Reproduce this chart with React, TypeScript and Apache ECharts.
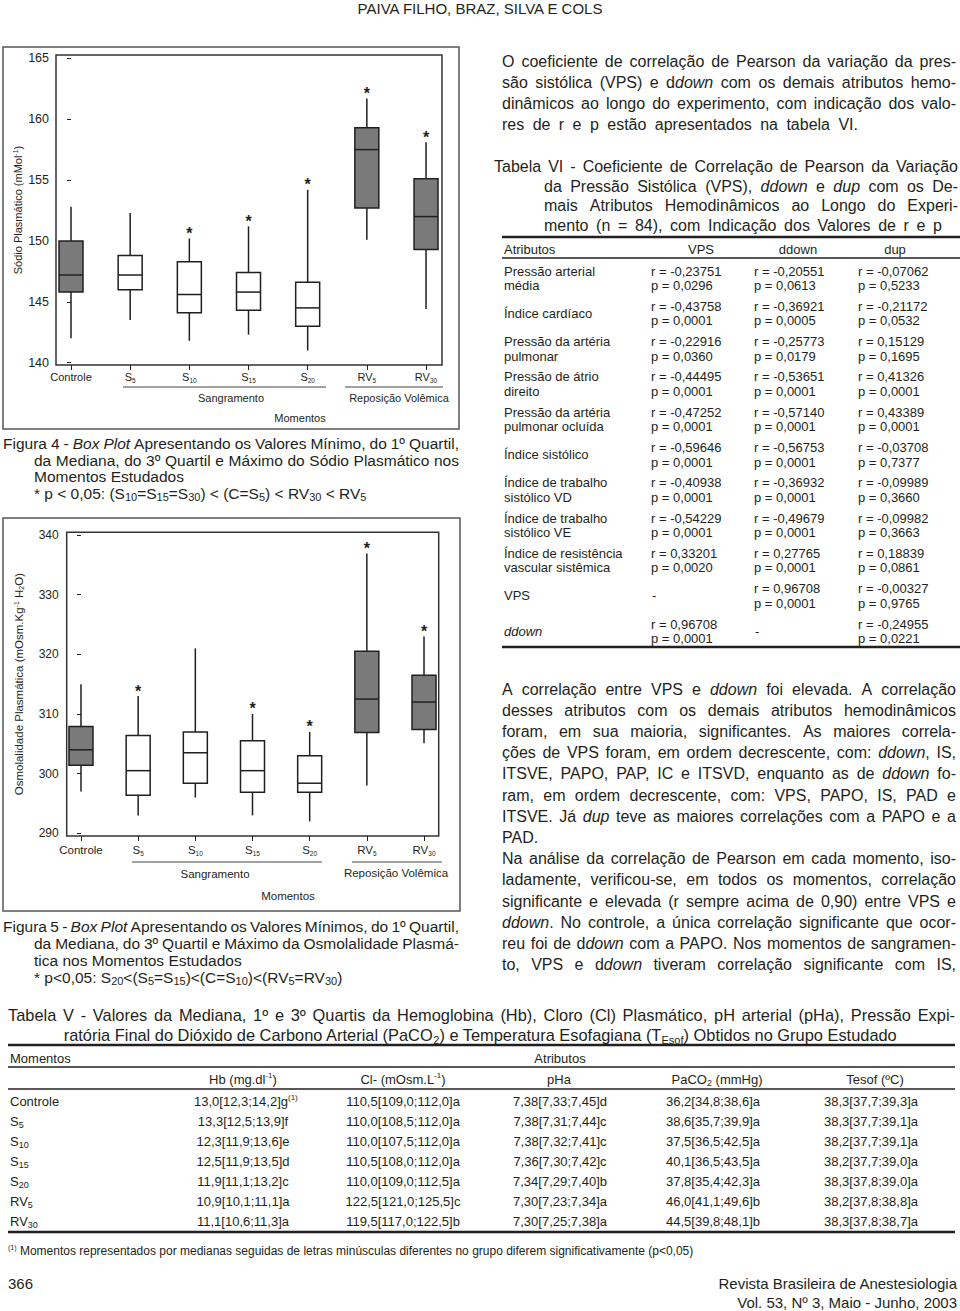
import React, { useEffect, useRef } from 'react';
import * as echarts from 'echarts';

const FONT = '"Liberation Sans", Arial, Helvetica, sans-serif';
const INK = '#231f20';
const GRAY = '#7a7a7a';
const BOX_W = 24;

// ---------- Box plot data ----------
const momentNames = ['Controle', 'S', 'S', 'S', 'S', 'RV', 'RV'];
const momentSubs = ['', '5', '10', '15', '20', '5', '30'];
const grayBoxes = [true, false, false, false, false, true, true];
const xPositions = [0, 1, 2, 3, 4, 5, 6];

// Figura 4 - Sódio plasmático
const sodioMin = [142.0, 143.5, 141.8, 142.3, 141.0, 150.1, 144.4];
const sodioQ1 = [145.8, 146.0, 144.1, 144.3, 143.0, 152.7, 149.3];
const sodioMed = [147.2, 147.2, 145.6, 145.8, 144.5, 157.5, 152.0];
const sodioQ3 = [150.0, 148.8, 148.3, 147.4, 146.6, 159.3, 155.1];
const sodioMax = [152.8, 152.3, 150.2, 151.2, 154.2, 161.7, 158.1];
const sodioStar = [false, false, true, true, true, true, true];
const sodioTicks = [140, 145, 150, 155, 160, 165];

// Figura 5 - Osmolalidade plasmática
const osmMin = [297.0, 293.0, 296.0, 293.0, 292.0, 298.0, 305.1];
const osmQ1 = [301.4, 296.4, 298.4, 296.9, 296.9, 306.9, 307.4];
const osmMed = [304.0, 300.5, 303.5, 300.5, 298.4, 312.5, 312.0];
const osmQ3 = [307.9, 306.4, 307.0, 305.5, 303.0, 320.5, 316.5];
const osmMax = [315.0, 313.0, 321.0, 310.0, 307.0, 336.9, 323.0];
const osmStar = [false, true, false, true, true, true, true];
const osmTicks = [290, 300, 310, 320, 330, 340];

// ---------- Tabela VI ----------
const attrsVI = [
  ['Pressão arterial', 'média'],
  ['Índice cardíaco'],
  ['Pressão da artéria', 'pulmonar'],
  ['Pressão de átrio', 'direito'],
  ['Pressão da artéria', 'pulmonar ocluída'],
  ['Índice sistólico'],
  ['Índice de trabalho', 'sistólico VD'],
  ['Índice de trabalho', 'sistólico VE'],
  ['Índice de resistência', 'vascular sistêmica'],
  ['VPS'],
  ['{i|ddown}'],
];
const vpsR = ['-0,23751', '-0,43758', '-0,22916', '-0,44495', '-0,47252', '-0,59646', '-0,40938', '-0,54229', '0,33201', null, '0,96708'];
const vpsP = ['0,0296', '0,0001', '0,0360', '0,0001', '0,0001', '0,0001', '0,0001', '0,0001', '0,0020', null, '0,0001'];
const ddownR = ['-0,20551', '-0,36921', '-0,25773', '-0,53651', '-0,57140', '-0,56753', '-0,36932', '-0,49679', '0,27765', '0,96708', null];
const ddownP = ['0,0613', '0,0005', '0,0179', '0,0001', '0,0001', '0,0001', '0,0001', '0,0001', '0,0001', '0,0001', null];
const dupR = ['-0,07062', '-0,21172', '0,15129', '0,41326', '0,43389', '-0,03708', '-0,09989', '-0,09982', '0,18839', '-0,00327', '-0,24955'];
const dupP = ['0,5233', '0,0532', '0,1695', '0,0001', '0,0001', '0,7377', '0,3660', '0,3663', '0,0861', '0,9765', '0,0221'];

// ---------- Tabela V ----------
const momentosV = ['Controle', 'S{sub|5}', 'S{sub|10}', 'S{sub|15}', 'S{sub|20}', 'RV{sub|5}', 'RV{sub|30}'];
const hbV = ['13,0[12,3;14,2]g{sup|(1)}', '13,3[12,5;13,9]f', '12,3[11,9;13,6]e', '12,5[11,9;13,5]d', '11,9[11,1;13,2]c', '10,9[10,1;11,1]a', '11,1[10,6;11,3]a'];
const clV = ['110,5[109,0;112,0]a', '110,0[108,5;112,0]a', '110,0[107,5;112,0]a', '110,5[108,0;112,0]a', '110,0[109,0;112,5]a', '122,5[121,0;125,5]c', '119,5[117,0;122,5]b'];
const phaV = ['7,38[7,33;7,45]d', '7,38[7,31;7,44]c', '7,38[7,32;7,41]c', '7,36[7,30;7,42]c', '7,34[7,29;7,40]b', '7,30[7,23;7,34]a', '7,30[7,25;7,38]a'];
const pacoV = ['36,2[34,8;38,6]a', '38,6[35,7;39,9]a', '37,5[36,5;42,5]a', '40,1[36,5;43,5]a', '37,8[35,4;42,3]a', '46,0[41,1;49,6]b', '44,5[39,8;48,1]b'];
const tesofV = ['38,3[37,7;39,3]a', '38,3[37,7;39,1]a', '38,2[37,7;39,1]a', '38,2[37,7;39,0]a', '38,3[37,8;39,0]a', '38,2[37,8;38,8]a', '38,3[37,8;38,7]a'];
const headersV = ['Hb (mg.dl{sup|-1})', 'Cl- (mOsm.L{sup|-1})', 'pHa', 'PaCO{sub|2} (mmHg)', 'Tesof (ºC)'];

// ---------- Texts ----------
const para1 = [
  'O coeficiente de correlação de Pearson da variação da pres-',
  'são sistólica (VPS) e d{i|down} com os demais atributos hemo-',
  'dinâmicos ao longo do experimento, com indicação dos valo-',
  'res de r e p estão apresentados na tabela VI.',
];
const para2 = [
  'A correlação entre VPS e {i|ddown} foi elevada. A correlação',
  'desses atributos com os demais atributos hemodinâmicos',
  'foram, em sua maioria, significantes. As maiores correla-',
  'ções de VPS foram, em ordem decrescente, com: {i|ddown}, IS,',
  'ITSVE, PAPO, PAP, IC e ITSVD, enquanto as de {i|ddown} fo-',
  'ram, em ordem decrescente, com: VPS, PAPO, IS, PAD e',
  'ITSVE. Já {i|dup} teve as maiores correlações com a PAPO e a',
  'PAD.',
  'Na análise da correlação de Pearson em cada momento, iso-',
  'ladamente, verificou-se, em todos os momentos, correlação',
  'significante e elevada (r sempre acima de 0,90) entre VPS e',
  '{i|ddown}. No controle, a única correlação significante que ocor-',
  'reu foi de d{i|down} com a PAPO. Nos momentos de sangramen-',
  'to, VPS e d{i|down} tiveram correlação significante com IS,',
];
const titleVI = [
  'Tabela VI - Coeficiente de Correlação de Pearson da Variação',
  'da Pressão Sistólica (VPS), {i|ddown} e {i|dup} com os De-',
  'mais Atributos Hemodinâmicos ao Longo do Experi-',
  'mento (n = 84), com Indicação dos Valores de r e p',
];
const fig4 = [
  'Figura 4 - {i|Box Plot} Apresentando os Valores Mínimo, do 1º Quartil,',
  'da Mediana, do 3º Quartil e Máximo do Sódio Plasmático nos',
  'Momentos Estudados',
  '* p < 0,05: (S{sub|10}=S{sub|15}=S{sub|30}) < (C=S{sub|5}) < RV{sub|30} < RV{sub|5}',
];
const fig5 = [
  'Figura 5 - {i|Box Plot} Apresentando os Valores Mínimos, do 1º Quartil,',
  'da Mediana, do 3º Quartil e Máximo da Osmolalidade Plasmá-',
  'tica nos Momentos Estudados',
  '* p<0,05: S{sub|20}<(S{sub|5}=S{sub|15})<(C=S{sub|10})<(RV{sub|5}=RV{sub|30})',
];
const titleV = [
  'Tabela V - Valores da Mediana, 1º e 3º Quartis da Hemoglobina (Hb), Cloro (Cl) Plasmático, pH arterial (pHa), Pressão Expi-',
  'ratória Final do Dióxido de Carbono Arterial (PaCO{sub|2}) e Temperatura Esofagiana (T{sub|Esof}) Obtidos no Grupo Estudado',
];

// ---------- helpers ----------
const subSize = (s: number) => Math.round(s * 0.68);
const supSize = (s: number) => Math.round(s * 0.62);

let measureCtx: CanvasRenderingContext2D | null = null;
function measure(text: string, size: number, italic: boolean) {
  if (!measureCtx) measureCtx = document.createElement('canvas').getContext('2d');
  if (!measureCtx) return text.length * size * 0.5;
  measureCtx.font = `${italic ? 'italic ' : ''}${size}px ${FONT}`;
  return measureCtx.measureText(text).width;
}

const richFor = (s: number, gap?: number) => {
  const r: any = {
    n: { fontSize: s, fontFamily: FONT, fill: INK, lineHeight: Math.round(s * 1.25) },
    i: { fontSize: s, fontFamily: FONT, fontStyle: 'italic', fill: INK, lineHeight: Math.round(s * 1.25) },
    sub: { fontSize: subSize(s), fontFamily: FONT, fill: INK, verticalAlign: 'bottom', lineHeight: Math.round(s * 0.85) },
    sup: { fontSize: supSize(s), fontFamily: FONT, fill: INK, verticalAlign: 'top', lineHeight: Math.round(s * 0.85) },
  };
  if (gap != null) r.sp = { width: gap, fontSize: s, fontFamily: FONT, fill: INK, lineHeight: Math.round(s * 1.25) };
  return r;
};

// Split a line into tokens and compute inter-word gap so it spans from x to right.
function justify(line: string, size: number, x: number, right: number) {
  const segs: { st: string; t: string }[] = [];
  const re = /\{(\w+)\|([^}]*)\}|([^{]+)/g;
  let m: RegExpExecArray | null;
  while ((m = re.exec(line))) {
    if (m[3] !== undefined) segs.push({ st: 'n', t: m[3] });
    else segs.push({ st: m[1], t: m[2] });
  }
  const toks: { st: string; t: string }[] = [];
  segs.forEach((s) => {
    s.t.split(/( )/).forEach((p) => {
      if (p === '') return;
      if (p === ' ') toks.push({ st: 'sp', t: ' ' });
      else toks.push({ st: s.st, t: p });
    });
  });
  const nSp = toks.filter((t) => t.st === 'sp').length;
  if (nSp === 0) return { text: line, gap: undefined as number | undefined };
  let w = 0;
  toks.forEach((t) => {
    if (t.st === 'sp') return;
    const sz = t.st === 'sub' ? subSize(size) : t.st === 'sup' ? supSize(size) : size;
    w += measure(t.t, sz, t.st === 'i');
  });
  const gap = Math.max(1.5, (right - x - w) / nSp);
  return { text: toks.map((t) => `{${t.st}|${t.t}}`).join(''), gap };
}

const T = (x: number, y: number, text: string, o: any = {}) => {
  const s = o.size || 14;
  const align = o.align || 'left';
  let content = text;
  let gap: number | undefined;
  if (o.right != null) {
    const j = justify(text, s, x, o.right);
    content = j.text;
    gap = j.gap;
  }
  return {
    type: 'text',
    x,
    y,
    silent: true,
    style: {
      text: content,
      fill: o.color || INK,
      fontSize: s,
      fontFamily: FONT,
      fontStyle: o.italic ? 'italic' : 'normal',
      align,
      textAlign: align,
      verticalAlign: 'middle',
      textVerticalAlign: 'middle',
      lineHeight: Math.round(s * 1.25),
      rich: richFor(s, gap),
    },
  };
};
const L = (x1: number, y1: number, x2: number, y2: number, w: number, c = INK) => ({
  type: 'line',
  silent: true,
  shape: { x1, y1, x2, y2 },
  style: { stroke: c, lineWidth: w },
});
const R = (x: number, y: number, w: number, h: number, c: string, lw: number) => ({
  type: 'rect',
  silent: true,
  shape: { x, y, width: w, height: h },
  style: { fill: 'none', stroke: c, lineWidth: lw },
});

function boxRenderer(stars: boolean[]) {
  return (_params: any, api: any) => {
    const i = api.value(0);
    const pMin = api.coord([i, api.value(1)]);
    const pQ1 = api.coord([i, api.value(2)]);
    const pMed = api.coord([i, api.value(3)]);
    const pQ3 = api.coord([i, api.value(4)]);
    const pMax = api.coord([i, api.value(5)]);
    const x = pMin[0];
    const hw = BOX_W / 2;
    const st = { stroke: INK, lineWidth: 1.5 };
    const children: any[] = [
      { type: 'line', shape: { x1: x, y1: pMin[1], x2: x, y2: pQ1[1] }, style: st },
      { type: 'line', shape: { x1: x, y1: pQ3[1], x2: x, y2: pMax[1] }, style: st },
      {
        type: 'rect',
        shape: { x: x - hw, y: pQ3[1], width: 2 * hw, height: pQ1[1] - pQ3[1] },
        style: { fill: grayBoxes[i] ? GRAY : '#ffffff', stroke: INK, lineWidth: 1.5 },
      },
      { type: 'line', shape: { x1: x - hw, y1: pMed[1], x2: x + hw, y2: pMed[1] }, style: st },
    ];
    if (stars[i]) {
      children.push({
        type: 'text',
        x,
        y: pMax[1] - 13,
        style: {
          text: '*',
          fill: INK,
          fontSize: 16,
          fontWeight: 'bold',
          fontFamily: FONT,
          align: 'center',
          textAlign: 'center',
          verticalAlign: 'top',
          textVerticalAlign: 'top',
        },
      });
    }
    return { type: 'group', children };
  };
}

const xLabelFmt = (v: number) => {
  const i = Math.round(v);
  if (Math.abs(v - i) > 1e-6 || i < 0 || i > 6) return '';
  return momentSubs[i] ? `{m|${momentNames[i]}}{s|${momentSubs[i]}}` : `{m|${momentNames[i]}}`;
};
const xRich = (s: number) => ({
  m: { fontSize: s, fontFamily: FONT, color: INK, lineHeight: 14 },
  s: { fontSize: 6.5, fontFamily: FONT, color: INK, lineHeight: 8, verticalAlign: 'bottom' },
});

function buildOption() {
  const graphic: any[] = [];
  // outer figure frames
  graphic.push(R(3, 47, 456, 382, '#555', 1.5));
  graphic.push(R(3, 518, 457, 393, '#555', 1.5));
  // header
  graphic.push(T(480, 8, 'PAIVA FILHO, BRAZ, SILVA E COLS', { size: 15, align: 'center' }));

  // figure 4 group labels
  graphic.push(L(123, 387, 326, 387, 1, '#444'));
  graphic.push(L(345, 387, 443, 387, 1, '#444'));
  graphic.push(T(231, 398, 'Sangramento', { size: 11, align: 'center' }));
  graphic.push(T(399, 397.5, 'Reposição Volêmica', { size: 11, align: 'center' }));
  graphic.push(T(300, 418, 'Momentos', { size: 11, align: 'center' }));
  // figure 5 group labels
  graphic.push(L(132, 862, 322, 862, 1, '#444'));
  graphic.push(L(352, 862, 442, 862, 1, '#444'));
  graphic.push(T(215, 874, 'Sangramento', { size: 11.5, align: 'center' }));
  graphic.push(T(396, 873, 'Reposição Volêmica', { size: 11.5, align: 'center' }));
  graphic.push(T(288, 896, 'Momentos', { size: 11.5, align: 'center' }));

  // captions
  const capRight = [459, 459, null, null];
  const f4y = [443, 460, 476, 493];
  fig4.forEach((t, k) => graphic.push(T(k === 0 ? 3 : 34, f4y[k], t, { size: 15.5, right: capRight[k] })));
  const f5y = [926, 943, 960, 977];
  fig5.forEach((t, k) => graphic.push(T(k === 0 ? 3 : 34, f5y[k], t, { size: 15.5, right: capRight[k] })));

  // paragraph 1
  const p1y = [61, 82, 103, 124];
  const p1r = [956, 956, 956, 858];
  para1.forEach((t, k) => graphic.push(T(502, p1y[k], t, { size: 16, right: p1r[k] })));
  // table VI title
  const tvy = [166.5, 186, 205.5, 225];
  const tvr = [958, 958, 958, 942];
  titleVI.forEach((t, k) => graphic.push(T(k === 0 ? 494 : 544, tvy[k], t, { size: 16, right: tvr[k] })));
  // table VI
  graphic.push(L(502, 237, 960, 237, 2.5));
  graphic.push(T(504, 249, 'Atributos', { size: 13 }));
  graphic.push(T(701, 249, 'VPS', { size: 13, align: 'center' }));
  graphic.push(T(798, 249, 'ddown', { size: 13, align: 'center' }));
  graphic.push(T(895, 249, 'dup', { size: 13, align: 'center' }));
  graphic.push(L(502, 258, 960, 258, 1.5));
  const colsX = [651, 754, 858];
  attrsVI.forEach((lab, i) => {
    const ry = 271 + i * 35.3;
    const py = ry + 14.5;
    const my = (ry + py) / 2;
    if (lab.length === 2) {
      graphic.push(T(504, ry, lab[0], { size: 13 }));
      graphic.push(T(504, py, lab[1], { size: 13 }));
    } else {
      graphic.push(T(504, my, lab[0], { size: 13 }));
    }
    const cols = [
      [vpsR[i], vpsP[i]],
      [ddownR[i], ddownP[i]],
      [dupR[i], dupP[i]],
    ];
    cols.forEach((c, j) => {
      if (c[0] === null) {
        graphic.push(T(colsX[j] + 1, my, '-', { size: 13 }));
      } else {
        graphic.push(T(colsX[j], ry, 'r = ' + c[0], { size: 13 }));
        graphic.push(T(colsX[j], py, 'p = ' + c[1], { size: 13 }));
      }
    });
  });
  graphic.push(L(502, 647, 960, 647, 2.5));

  // paragraph 2
  para2.forEach((t, k) =>
    graphic.push(T(502, 689 + k * 21.2, t, { size: 16, right: k === 7 ? null : 956 }))
  );

  // table V
  graphic.push(T(8, 1015, titleV[0], { size: 16.4, right: 955 }));
  graphic.push(T(480, 1035, titleV[1], { size: 16.4, align: 'center' }));
  graphic.push(L(8, 1045, 955, 1045, 2.5));
  graphic.push(T(10, 1058, 'Momentos', { size: 13 }));
  graphic.push(T(560, 1058, 'Atributos', { size: 13, align: 'center' }));
  graphic.push(L(8, 1067, 955, 1067, 1.5));
  const hX = [243, 403, 559, 717, 875];
  headersV.forEach((h, j) => graphic.push(T(hX[j], 1079, h, { size: 13, align: 'center' })));
  graphic.push(L(8, 1089, 955, 1089, 1.5));
  const vX = [243, 403, 560, 713, 871];
  const colsV = [hbV, clV, phaV, pacoV, tesofV];
  momentosV.forEach((m, i) => {
    const y = 1101 + i * 20.15;
    graphic.push(T(10, y, m, { size: 13 }));
    colsV.forEach((col, j) => {
      const isSup = col[i].indexOf('{sup|') >= 0;
      graphic.push(T(isSup ? vX[j] - 49 : vX[j], y, col[i], { size: 13, align: isSup ? 'left' : 'center' }));
    });
  });
  graphic.push(L(8, 1232, 955, 1232, 2.5));
  graphic.push(
    T(8, 1251, '{sup|(1)} Momentos representados por medianas seguidas de letras minúsculas diferentes no grupo diferem significativamente (p<0,05)', { size: 12 })
  );
  graphic.push(T(8, 1283, '366', { size: 15 }));
  graphic.push(T(957, 1283, 'Revista Brasileira de Anestesiologia', { size: 15, align: 'right' }));
  graphic.push(T(957, 1302, 'Vol. 53, Nº 3, Maio - Junho, 2003', { size: 15, align: 'right' }));

  const axisText = (s: number) => ({ fontSize: s, fontFamily: FONT, color: INK });
  const nameRich = () => ({
    sup: { fontSize: 7, fontFamily: FONT, color: INK, verticalAlign: 'top', lineHeight: 9 },
    sub: { fontSize: 7, fontFamily: FONT, color: INK, verticalAlign: 'bottom', lineHeight: 9 },
  });

  return {
    animation: false,
    backgroundColor: '#ffffff',
    grid: [
      { left: 56, top: 55, width: 386, height: 310, show: true, borderColor: '#333', borderWidth: 1.5, backgroundColor: 'transparent' },
      { left: 66.7, top: 532.3, width: 372, height: 303.7, show: true, borderColor: '#333', borderWidth: 1.5, backgroundColor: 'transparent' },
    ],
    xAxis: [
      {
        type: 'value', gridIndex: 0, min: -0.2535, max: 6.27,
        axisLine: { show: false }, splitLine: { show: false },
        axisTick: { show: true, length: 5, customValues: xPositions, lineStyle: { color: INK } },
        axisLabel: { customValues: xPositions, margin: 5, formatter: xLabelFmt, rich: xRich(11) },
      },
      {
        type: 'value', gridIndex: 1, min: -0.25, max: 6.257,
        axisLine: { show: false }, splitLine: { show: false },
        axisTick: { show: true, length: 5, customValues: xPositions, lineStyle: { color: INK } },
        axisLabel: { customValues: xPositions, margin: 7, formatter: xLabelFmt, rich: xRich(11.5) },
      },
    ],
    yAxis: [
      {
        type: 'value', gridIndex: 0, min: 139.81, max: 165.27,
        axisLine: { show: false }, splitLine: { show: false },
        axisTick: { show: true, length: 4, customValues: sodioTicks, lineStyle: { color: INK } },
        axisLabel: { customValues: sodioTicks, margin: 7, ...axisText(12.5) },
        name: 'Sódio Plasmático (mMol{sup|-1})',
        nameLocation: 'middle', nameGap: 33, nameRotate: 90,
        nameTextStyle: { ...axisText(11), rich: nameRich() },
      },
      {
        type: 'value', gridIndex: 1, min: 289.55, max: 340.45,
        axisLine: { show: false }, splitLine: { show: false },
        axisTick: { show: true, length: 4, customValues: osmTicks, lineStyle: { color: INK } },
        axisLabel: { customValues: osmTicks, margin: 8, ...axisText(12) },
        name: 'Osmolalidade Plasmática (mOsm.Kg{sup|-1} H{sub|2}O)',
        nameLocation: 'middle', nameGap: 42, nameRotate: 90,
        nameTextStyle: { ...axisText(11.5), rich: nameRich() },
      },
    ],
    series: [
      {
        type: 'custom', xAxisIndex: 0, yAxisIndex: 0, clip: false, silent: true,
        renderItem: boxRenderer(sodioStar),
        encode: { x: 0, y: [1, 2, 3, 4, 5] },
        data: sodioMin.map((v, i) => [xPositions[i], v, sodioQ1[i], sodioMed[i], sodioQ3[i], sodioMax[i]]),
      },
      {
        type: 'custom', xAxisIndex: 1, yAxisIndex: 1, clip: false, silent: true,
        renderItem: boxRenderer(osmStar),
        encode: { x: 0, y: [1, 2, 3, 4, 5] },
        data: osmMin.map((v, i) => [xPositions[i], v, osmQ1[i], osmMed[i], osmQ3[i], osmMax[i]]),
      },
    ],
    graphic: { elements: graphic },
  };
}

export default function App() {
  const ref = useRef<HTMLDivElement>(null);
  useEffect(() => {
    if (!ref.current) return;
    const chart = echarts.init(ref.current, null, { renderer: 'svg' });
    chart.setOption(buildOption() as any);
    return () => chart.dispose();
  }, []);
  return (
    <div
      ref={ref}
      style={{ position: 'absolute', left: 0, top: 0, width: 960, height: 1311, background: '#fff' }}
    />
  );
}
